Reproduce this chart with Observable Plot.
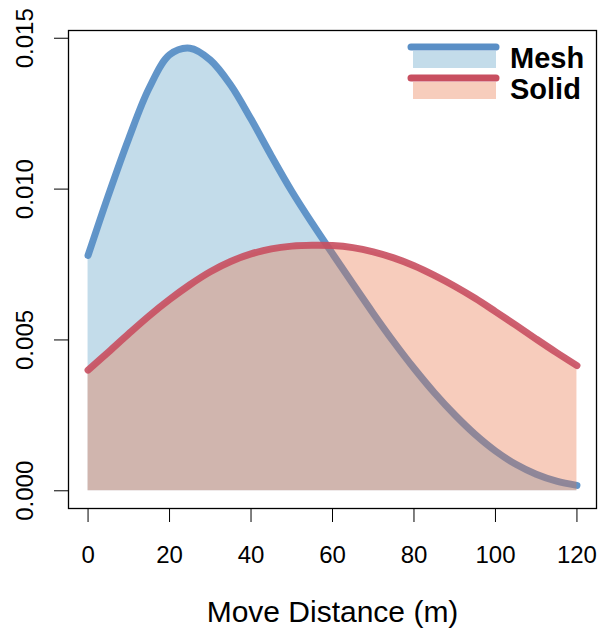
<!DOCTYPE html>
<html><head><meta charset="utf-8">
<script src="https://cdn.jsdelivr.net/npm/d3@7"></script>
<script src="https://cdn.jsdelivr.net/npm/@observablehq/plot@0.6"></script>
<style>
html,body{margin:0;padding:0;background:#fff}
#chart svg{display:block}
</style>
</head><body><div id="chart"></div>
<script>
// Data
const distance = [0,5,10,15,20,25,30,35,40,45,50,55,60,65,70,75,80,85,90,95,100,105,110,115,120];
const mesh  = [0.0078,0.0098,0.01168,0.01335,0.01445,0.01467,0.01428,0.01345,0.01232,0.0111,0.00993,0.00887,0.00786,0.00686,0.00588,0.00494,0.00406,0.00325,0.00252,0.00187,0.00132,0.00088,0.00055,0.00032,0.00018];
const solid = [0.0040,0.0046,0.00521,0.0058,0.00634,0.00683,0.00726,0.0076,0.00785,0.00802,0.00811,0.00814,0.00813,0.00806,0.00792,0.00772,0.00746,0.00714,0.00678,0.00638,0.00594,0.00549,0.00503,0.00458,0.00415];
const series = ["Mesh","Solid"];
const xTicks = [0,20,40,60,80,100,120];
const yTicks = [0,0.005,0.010,0.015];
const xTitle = "Move Distance (m)";

const lineColor = {Mesh:"#5a8fc6", Solid:"#c84f60"};
const fillColor = {Mesh:"#c3dcea", Solid:"#e86d40"};
const fillOpacity = {Mesh:1, Solid:0.35};
const legendFill = {Mesh:"#c3dcea", Solid:"#f7cdbc"};

const meshRows = distance.map((d,i)=>({d, v:mesh[i]}));
const solidRows = distance.map((d,i)=>({d, v:solid[i]}));
const yMax = d3.max(mesh);
const xMin = d3.min(distance), xMax = d3.max(distance);
const xPad = 0.04*(xMax-xMin);

const font = "'Liberation Sans', Arial, Helvetica, sans-serif";

const chart = Plot.plot({
  width: 606, height: 631,
  marginLeft: 68, marginRight: 10, marginTop: 30, marginBottom: 123,
  x: {domain: [xMin - xPad, xMax + xPad]},
  y: {domain: [-0.04*yMax, 1.04*yMax]},
  style: {fontFamily: font, background: "white", color: "black", overflow: "visible"},
  marks: [
    Plot.areaY(meshRows, {x:"d", y:"v", fill:fillColor.Mesh, fillOpacity:fillOpacity.Mesh, curve:"catmull-rom"}),
    Plot.lineY(meshRows, {x:"d", y:"v", stroke:lineColor.Mesh, strokeWidth:7, strokeOpacity:0.95, curve:"catmull-rom", strokeLinecap:"round"}),
    Plot.areaY(solidRows, {x:"d", y:"v", fill:fillColor.Solid, fillOpacity:fillOpacity.Solid, curve:"catmull-rom"}),
    Plot.lineY(solidRows, {x:"d", y:"v", stroke:lineColor.Solid, strokeWidth:7, strokeOpacity:0.9, curve:"catmull-rom", strokeLinecap:"round"}),
    Plot.frame({stroke:"black", strokeWidth:1.3}),
    Plot.axisX({ticks:xTicks, tickSize:14, tickPadding:23, fontSize:24, label:null, tickFormat:d3.format("d")}),
    Plot.axisY({ticks:yTicks, tickSize:14, tickFormat:()=>"", label:null}),
    Plot.text(yTicks, {y:d=>d, text:d=>d3.format(".3f")(d), frameAnchor:"left", dx:-43, rotate:-90, fontSize:24, textAnchor:"middle", lineAnchor:"middle", fill:"black"}),
    Plot.text([xTitle], {text:d=>d, frameAnchor:"bottom", dy:104, fontSize:30, lineAnchor:"middle", fill:"black"})
  ]
});
document.getElementById("chart").appendChild(chart);

// Legend (top-right inside the box)
const svg = d3.select(chart);
const lg = svg.append("g").attr("font-family", font).attr("text-anchor", "start");
series.forEach((s,i)=>{
  const y0 = 47 + i*31;
  lg.append("rect").attr("x",413).attr("y",y0+4).attr("width",83).attr("height",17)
    .attr("fill", legendFill[s]);
  lg.append("line").attr("x1",411).attr("x2",496).attr("y1",y0).attr("y2",y0)
    .attr("stroke",lineColor[s]).attr("stroke-width",7).attr("stroke-linecap","round");
  lg.append("text").attr("x",510).attr("y",y0+21).attr("font-size",29).attr("font-weight","bold")
    .attr("text-anchor","start").attr("fill","black").text(s);
});
</script>
</body></html>
